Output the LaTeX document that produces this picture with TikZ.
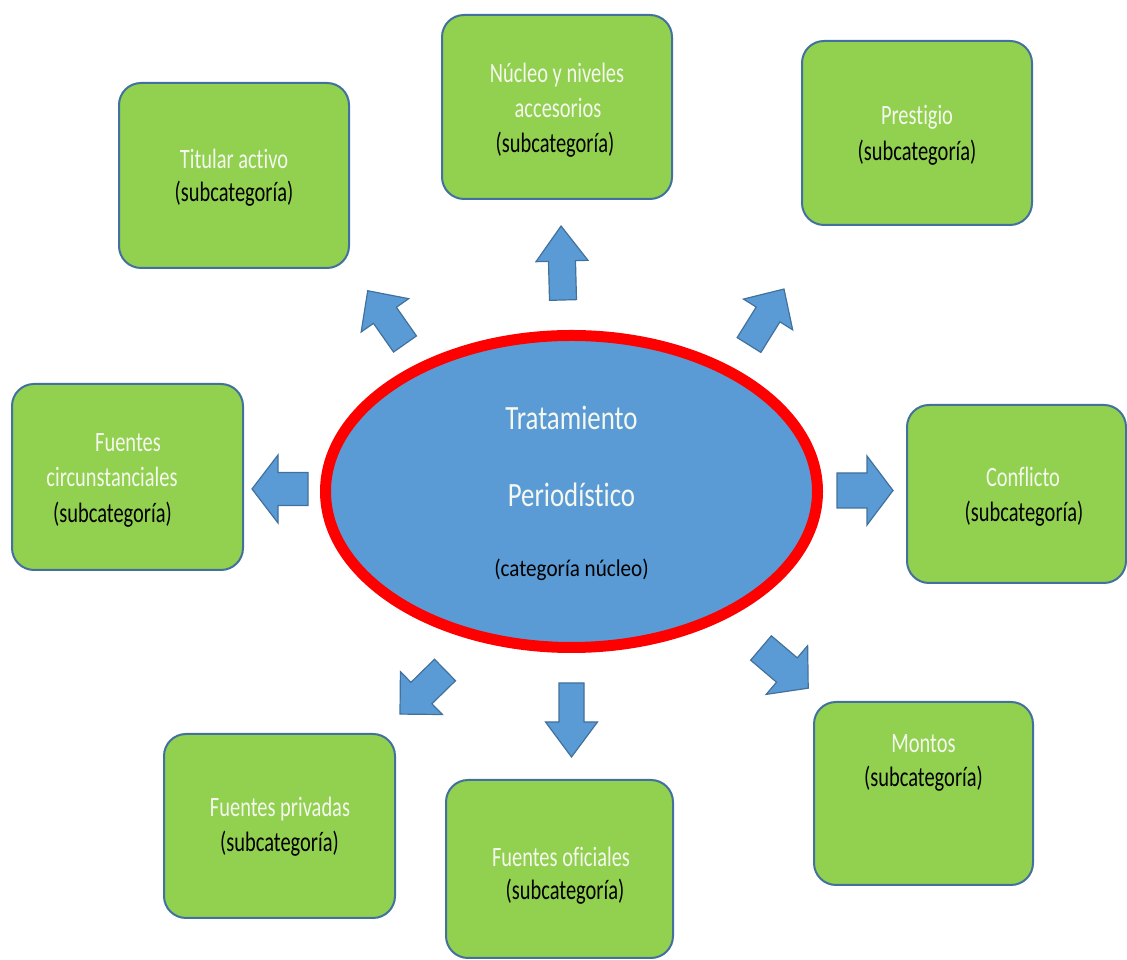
\documentclass[tikz,border=0pt]{standalone}
\usepackage{fontspec}
\setmainfont{Carlito}
\newfontfamily\boxfont[FakeStretch=0.73,Ligatures={NoCommon}]{Carlito}
\newfontfamily\titlefont[FakeStretch=0.79,Ligatures={NoCommon}]{Carlito}
\newfontfamily\catfont[FakeStretch=0.88,Ligatures={NoCommon}]{Carlito}
\definecolor{boxgreen}{HTML}{92D050}
\definecolor{edgeblue}{HTML}{41719C}
\definecolor{fillblue}{HTML}{5B9BD5}
\definecolor{ringred}{HTML}{FF0000}
\definecolor{paletext}{HTML}{F4F8EE}
\usetikzlibrary{shapes.geometric}
\tikzset{
  subbox/.style={draw=edgeblue, line width=2pt, fill=boxgreen, rounded corners=22pt, inner sep=0pt},
  wtext/.style={anchor=base, inner sep=0pt, text=paletext, font=\boxfont\fontsize{28}{32}\selectfont},
  btext/.style={anchor=base, inner sep=0pt, text=black, font=\boxfont\fontsize{28}{32}\selectfont},
  barrow/.style={draw=edgeblue, line width=1.2pt, fill=fillblue, line join=miter},
  core/.style={ellipse, draw=ringred, line width=11pt, fill=fillblue, inner sep=0pt},
}
% #1 x, #2 y, #3 angle, #4 length, #5 shaft half width, #6 head half width, #7 head length
\newcommand\blockarrow[7]{%
  \begin{scope}[shift={(#1,#2)},rotate=#3]
    \draw[barrow] (0,-#5) -- ({#4-#7},-#5) -- ({#4-#7},-#6) -- (#4,0)
      -- ({#4-#7},#6) -- ({#4-#7},#5) -- (0,#5) -- cycle;
  \end{scope}}
\begin{document}
\begin{tikzpicture}[x=1pt,y=1pt]
\useasboundingbox (0,0) rectangle (1127,960);

% central ellipse
\node[core, minimum width=492pt, minimum height=312pt] (core) at (571.5,468.5) {};
\node[anchor=base, inner sep=0pt, text=paletext, font=\titlefont\fontsize{34}{38}\selectfont] (c1) at (571.5,530) {Tratamiento};
\node[anchor=base, inner sep=0pt, text=paletext, font=\titlefont\fontsize{34}{38}\selectfont] (c2) at (571.5,453) {Periodístico};
\node[anchor=base, inner sep=0pt, text=black, font=\catfont\fontsize{24}{28}\selectfont] (c3) at (571.5,383) {(categoría núcleo)};

% boxes
\node[subbox, minimum width=230pt, minimum height=185pt] (titular) at (234,784.5) {};
\node[wtext] (titular1) at (234,791) {Titular activo};
\node[btext] (titular2) at (234,758) {(subcategoría)};

\node[subbox, minimum width=230pt, minimum height=184pt] (nucleo) at (557,853) {};
\node[wtext] (nucleo1) at (557,877) {Núcleo y niveles};
\node[wtext] (nucleo2) at (558,842) {accesorios};
\node[btext] (nucleo3) at (555,807) {(subcategoría)};

\node[subbox, minimum width=230pt, minimum height=184pt] (prestigio) at (917,827) {};
\node[wtext] (prestigio1) at (917,835) {Prestigio};
\node[btext] (prestigio2) at (917,799) {(subcategoría)};

\node[subbox, minimum width=231pt, minimum height=186pt] (circ) at (127.5,483) {};
\node[wtext] (circ1) at (128,508) {Fuentes};
\node[wtext] (circ2) at (112,473) {circunstanciales};
\node[btext] (circ3) at (112.5,437) {(subcategoría)};

\node[subbox, minimum width=219pt, minimum height=178pt] (conflicto) at (1016.5,466) {};
\node[wtext] (conflicto1) at (1023,473) {Conflicto};
\node[btext] (conflicto2) at (1024,438) {(subcategoría)};

\node[subbox, minimum width=231pt, minimum height=184pt] (privadas) at (279.5,134) {};
\node[wtext] (privadas1) at (280,143) {Fuentes privadas};
\node[btext] (privadas2) at (279.5,108) {(subcategoría)};

\node[subbox, minimum width=227pt, minimum height=178pt] (oficiales) at (559.5,91) {};
\node[wtext] (oficiales1) at (561,93) {Fuentes oficiales};
\node[btext] (oficiales2) at (565,60) {(subcategoría)};

\node[subbox, minimum width=219pt, minimum height=183pt] (montos) at (923.5,166.5) {};
\node[wtext] (montos1) at (923.5,207) {Montos};
\node[btext] (montos2) at (923.5,173) {(subcategoría)};

% block arrows
\blockarrow{563}{660}{91.5}{74}{13.5}{26}{35}
\blockarrow{405}{616}{125}{65}{14}{29}{30}
\blockarrow{749}{615}{58}{66}{14}{29}{30}
\blockarrow{308}{471}{180}{56}{16.5}{34}{26}
\blockarrow{837}{469.5}{0}{56}{17.5}{34.5}{26}
\blockarrow{571.5}{277}{-90}{74}{12.5}{26}{35}
\blockarrow{445}{290}{224.4}{63}{15}{30}{30}
\blockarrow{761}{312}{-40.4}{62}{16}{32}{28}
\end{tikzpicture}
\end{document}
